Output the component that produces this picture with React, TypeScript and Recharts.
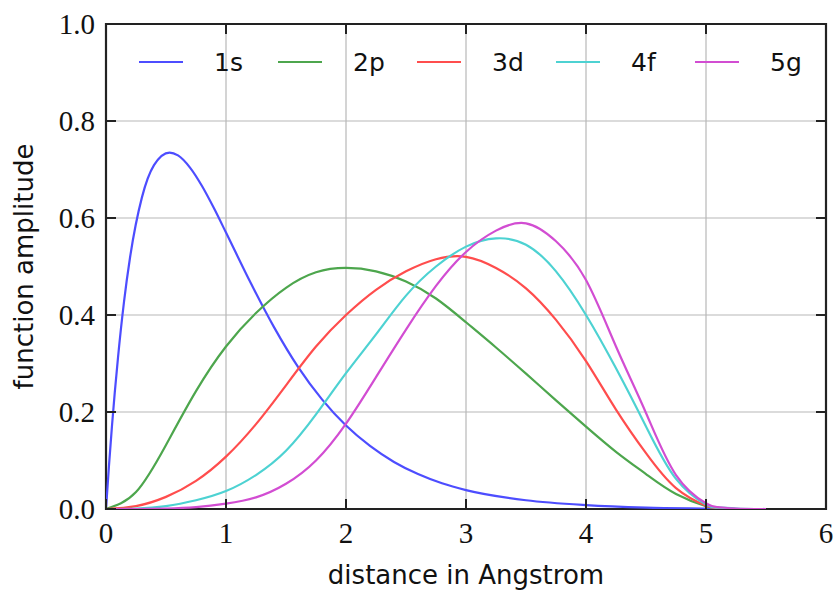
import { LineChart, Line, XAxis, YAxis, CartesianGrid, ReferenceArea, Label } from 'recharts';

// tick values
const xTicks = [0, 1, 2, 3, 4, 5, 6];
const yTicks = [0, 0.2, 0.4, 0.6, 0.8, 1.0];

// 1s needs a finer grid near the origin
const r1s = [0, 0.025, 0.05, 0.1, 0.15, 0.2, 0.3, 0.4, 0.53, 0.6, 0.7, 0.8, 0.9, 1.0, 1.2, 1.4, 1.6, 1.8, 2.0, 2.2, 2.4, 2.6, 2.8, 3.0, 3.5, 4.0, 4.5, 5.0, 5.3];
const amp1s = [0, 0.09, 0.172, 0.312, 0.427, 0.518, 0.643, 0.709, 0.735, 0.729, 0.704, 0.666, 0.62, 0.57, 0.469, 0.375, 0.293, 0.226, 0.172, 0.13, 0.097, 0.072, 0.053, 0.039, 0.018, 0.008, 0.003, 0.001, 0];

// shared radial grid for the other orbitals
const rGrid = [0, 0.25, 0.5, 0.75, 1, 1.25, 1.5, 1.75, 2, 2.25, 2.5, 2.75, 3, 3.25, 3.5, 3.75, 4, 4.25, 4.5, 4.75, 5, 5.1, 5.25, 5.5];
const amp2p = [0, 0.035, 0.132, 0.243, 0.335, 0.404, 0.456, 0.488, 0.497, 0.49, 0.469, 0.434, 0.385, 0.333, 0.279, 0.224, 0.17, 0.118, 0.072, 0.031, 0.006, 0.002, 0, 0];
const amp3d = [0, 0.006, 0.025, 0.058, 0.108, 0.175, 0.255, 0.335, 0.4, 0.452, 0.49, 0.515, 0.52, 0.497, 0.455, 0.39, 0.305, 0.205, 0.115, 0.043, 0.007, 0.002, 0, 0];
const amp4f = [0, 0.001, 0.006, 0.018, 0.037, 0.07, 0.12, 0.195, 0.28, 0.36, 0.44, 0.5, 0.541, 0.558, 0.545, 0.49, 0.4, 0.29, 0.17, 0.062, 0.009, 0.003, 0.001, 0];
const amp5g = [0, 0, 0.001, 0.004, 0.011, 0.024, 0.052, 0.1, 0.176, 0.272, 0.37, 0.46, 0.53, 0.574, 0.589, 0.552, 0.472, 0.335, 0.198, 0.07, 0.012, 0.004, 0.001, 0];

const names = ['1s', '2p', '3d', '4f', '5g'];
const colors = ['#4d4dff', '#4da64d', '#ff4d4d', '#4dd2d2', '#d24dd2'];
const curveTypes = ['monotone', 'natural', 'natural', 'natural', 'natural'];

const toPoints = (rs: number[], vs: number[]) => rs.map((r, i) => ({ r, v: vs[i] }));

const series = [
  toPoints(r1s, amp1s),
  toPoints(rGrid, amp2p),
  toPoints(rGrid, amp3d),
  toPoints(rGrid, amp4f),
  toPoints(rGrid, amp5g),
];

const W = 835;
const H = 591;
const plot = { left: 106, top: 24, right: 826, bottom: 509 };
const TICK = 10;

const serif = '"Liberation Serif", "DejaVu Serif", serif';
const sans = '"DejaVu Sans", sans-serif';
const ink = '#111';
const frame = '#222';

function XTick(props: any) {
  const { x, y, payload } = props;
  return (
    <g>
      <line x1={x} x2={x} y1={plot.bottom} y2={plot.bottom - TICK} stroke={frame} strokeWidth={2} />
      <line x1={x} x2={x} y1={plot.top} y2={plot.top + TICK} stroke={frame} strokeWidth={2} />
      <text x={x} y={y} dy="0.71em" textAnchor="middle" fontFamily={serif} fontSize={29} fill={ink}>
        {payload.value}
      </text>
    </g>
  );
}

function YTick(props: any) {
  const { x, y, payload } = props;
  return (
    <g>
      <line x1={plot.left} x2={plot.left + TICK} y1={y} y2={y} stroke={frame} strokeWidth={2} />
      <line x1={plot.right} x2={plot.right - TICK} y1={y} y2={y} stroke={frame} strokeWidth={2} />
      <text x={x} y={y} dy="0.355em" textAnchor="end" fontFamily={serif} fontSize={29} fill={ink}>
        {Number(payload.value).toFixed(1)}
      </text>
    </g>
  );
}

function LegendBox() {
  return (
    <div style={{ position: 'absolute', left: 139, top: 48, display: 'flex', fontFamily: sans, fontSize: 25, color: ink }}>
      {names.map((n, i) => (
        <div key={n} style={{ width: 139, display: 'flex', alignItems: 'center', height: 28 }}>
          <svg width={44} height={4}>
            <line x1={0} y1={2} x2={44} y2={2} stroke={colors[i]} strokeWidth={2.2} />
          </svg>
          <span style={{ marginLeft: 31 }}>{n}</span>
        </div>
      ))}
    </div>
  );
}

export default function App() {
  return (
    <div style={{ position: 'absolute', left: 0, top: 0, width: W, height: H, background: '#fff' }}>
      <LineChart
        width={W}
        height={H}
        margin={{ top: plot.top, right: W - plot.right, left: 0, bottom: 0 }}
      >
        <CartesianGrid stroke="#b8b8b8" strokeWidth={1.2} />
        <XAxis
          dataKey="r"
          type="number"
          domain={[0, 6]}
          ticks={xTicks}
          allowDataOverflow
          height={H - plot.bottom}
          axisLine={false}
          tickLine={false}
          tickSize={0}
          tickMargin={13}
          tick={<XTick />}
        >
          <Label
            content={(p: any) => {
              const vb = p.viewBox || { x: plot.left, y: plot.bottom, width: plot.right - plot.left, height: H - plot.bottom };
              return (
                <text x={vb.x + vb.width / 2} y={vb.y + vb.height - 7} textAnchor="middle" fontFamily={sans} fontSize={26} fill={ink}>
                  distance in Angstrom
                </text>
              );
            }}
          />
        </XAxis>
        <YAxis
          type="number"
          domain={[0, 1]}
          ticks={yTicks}
          allowDataOverflow
          width={plot.left}
          axisLine={false}
          tickLine={false}
          tickSize={0}
          tickMargin={11}
          tick={<YTick />}
        >
          <Label
            content={(p: any) => {
              const vb = p.viewBox || { x: 0, y: plot.top, width: plot.left, height: plot.bottom - plot.top };
              const cx = vb.x + 33;
              const cy = vb.y + vb.height / 2;
              return (
                <text x={cx} y={cy} transform={`rotate(-90, ${cx}, ${cy})`} textAnchor="middle" fontFamily={sans} fontSize={26} fill={ink}>
                  function amplitude
                </text>
              );
            }}
          />
        </YAxis>
        <ReferenceArea x1={0} x2={6} y1={0} y2={1} fill="none" stroke={frame} strokeWidth={2.2} />
        {series.map((pts, i) => (
          <Line
            key={names[i]}
            data={pts}
            dataKey="v"
            name={names[i]}
            type={curveTypes[i] as any}
            stroke={colors[i]}
            strokeWidth={2.2}
            dot={false}
            activeDot={false}
            isAnimationActive={false}
          />
        ))}
      </LineChart>
      <LegendBox />
    </div>
  );
}
